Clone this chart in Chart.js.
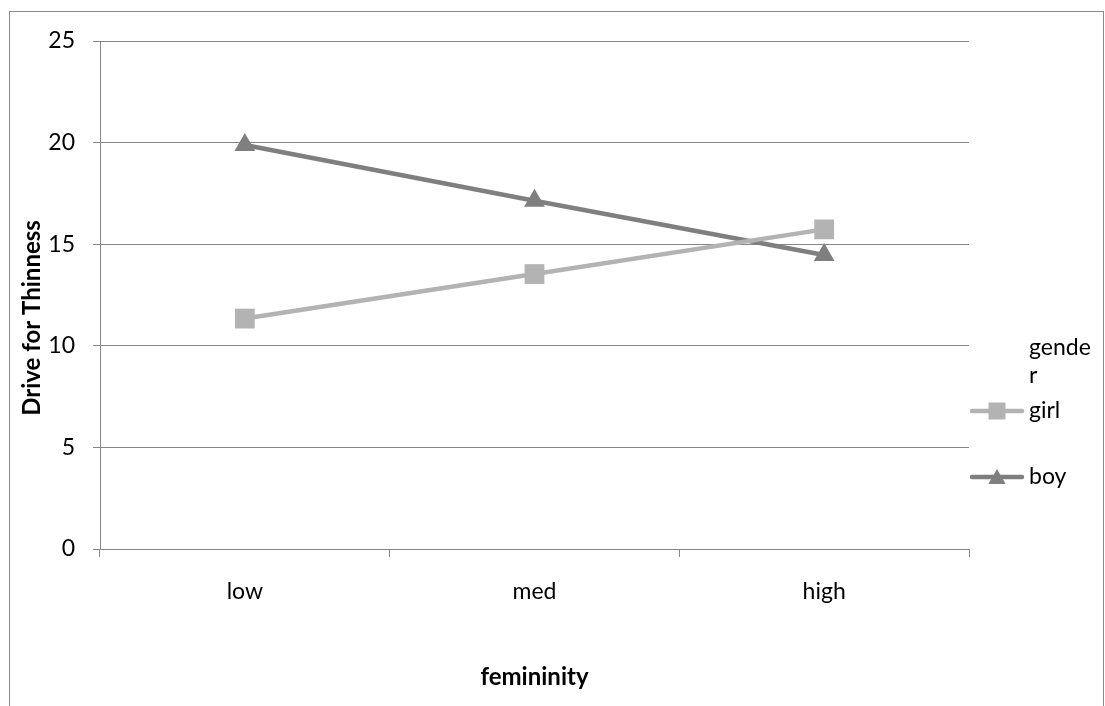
<!DOCTYPE html>
<html>
<head>
<meta charset="utf-8">
<script src="https://cdn.jsdelivr.net/npm/chart.js@4/dist/chart.umd.min.js"></script>
<style>
    html, body { margin: 0; padding: 0; background: #fff; }
    #wrap { width: 1105px; height: 706px; position: relative; }
</style>
</head>
<body>
<div id="wrap"><canvas id="chart" width="1105" height="706"></canvas></div>
<script>
// data
const categories = ['low', 'med', 'high'];
const girlValues = [11.34, 13.53, 15.73];
const boyValues = [19.88, 17.14, 14.47];
const yTickValues = [0, 5, 10, 15, 20, 25];
const seriesNames = ['girl', 'boy'];
const legendTitle = ['gende', 'r'];

const FONT = 'Lato, "Open Sans", sans-serif';
const GRID = '#868686';
const GIRL = '#b3b3b3';
const BOY = '#7f7f7f';

// frame, axis titles and the legend (Excel-style, legend sits at the right)
const decorations = {
    id: 'decorations',
    beforeDraw(chart) {
        const ctx = chart.ctx;
        ctx.save();
        ctx.strokeStyle = '#8a8a8a';
        ctx.lineWidth = 1;
        ctx.strokeRect(9.5, 11.5, 1094, 800);
        ctx.restore();
    },
    afterDraw(chart) {
        const ctx = chart.ctx;
        const area = chart.chartArea;
        ctx.save();
        ctx.fillStyle = '#000';
        ctx.font = 'bold 24px ' + FONT;
        ctx.textAlign = 'center';
        ctx.textBaseline = 'middle';
        ctx.fillText('femininity', (area.left + area.right) / 2, 677);

        ctx.translate(32, 318);
        ctx.rotate(-Math.PI / 2);
        ctx.fillText('Drive for Thinness', 0, 0);
        ctx.restore();

        // legend
        ctx.save();
        ctx.font = '23px ' + FONT;
        ctx.fillStyle = '#000';
        ctx.textAlign = 'left';
        ctx.textBaseline = 'alphabetic';
        ctx.fillText(legendTitle[0], 1029, 355);
        ctx.fillText(legendTitle[1], 1029, 383);

        const rows = [
            { name: seriesNames[0], color: GIRL, style: 'rect', radius: 12, y: 411 },
            { name: seriesNames[1], color: BOY, style: 'triangle', radius: 10, y: 477 }
        ];
        rows.forEach(r => {
            ctx.strokeStyle = r.color;
            ctx.lineWidth = 4.5;
            ctx.lineCap = 'round';
            ctx.beginPath();
            ctx.moveTo(972, r.y);
            ctx.lineTo(1022, r.y);
            ctx.stroke();
            ctx.fillStyle = r.color;
            Chart.helpers.drawPoint(ctx, { pointStyle: r.style, radius: r.radius, rotation: 0, borderWidth: 0 }, 997, r.y + (r.style === 'triangle' ? 2 : 0));
            ctx.fillStyle = '#000';
            ctx.fillText(r.name, 1029, r.y + 7);
        });
        ctx.restore();
    }
};

new Chart(document.getElementById('chart'), {
    type: 'line',
    data: {
        labels: categories,
        datasets: [
            {
                label: seriesNames[0],
                data: girlValues,
                borderColor: GIRL,
                backgroundColor: GIRL,
                borderWidth: 4.5,
                pointStyle: 'rect',
                pointRadius: 14,
                pointBorderWidth: 0,
                tension: 0
            },
            {
                label: seriesNames[1],
                data: boyValues,
                borderColor: BOY,
                backgroundColor: BOY,
                borderWidth: 4.5,
                pointStyle: 'triangle',
                pointRadius: 12,
                pointBorderWidth: 0,
                tension: 0
            }
        ]
    },
    options: {
        responsive: false,
        animation: false,
        events: [],
        layout: { padding: { top: 41, right: 136, left: 0, bottom: 0 } },
        plugins: {
            legend: { display: false },
            tooltip: { enabled: false },
            title: { display: false }
        },
        scales: {
            x: {
                type: 'category',
                offset: true,
                grid: { offset: true, drawOnChartArea: false, drawTicks: true, tickLength: 8, color: GRID },
                border: { color: GRID, width: 1 },
                ticks: { color: '#000', font: { family: FONT, size: 23 }, padding: 21, maxRotation: 0 },
                afterFit: s => { s.height = 157; }
            },
            y: {
                min: 0,
                max: 25,
                afterBuildTicks: s => { s.ticks = yTickValues.map(v => ({ value: v })); },
                grid: { color: GRID, tickLength: 7, drawTicks: true },
                border: { color: GRID, width: 1 },
                ticks: { color: '#000', font: { family: FONT, size: 23 }, padding: 18 },
                afterFit: s => { s.width = 100; }
            }
        }
    },
    plugins: [decorations]
});
</script>
</body>
</html>
